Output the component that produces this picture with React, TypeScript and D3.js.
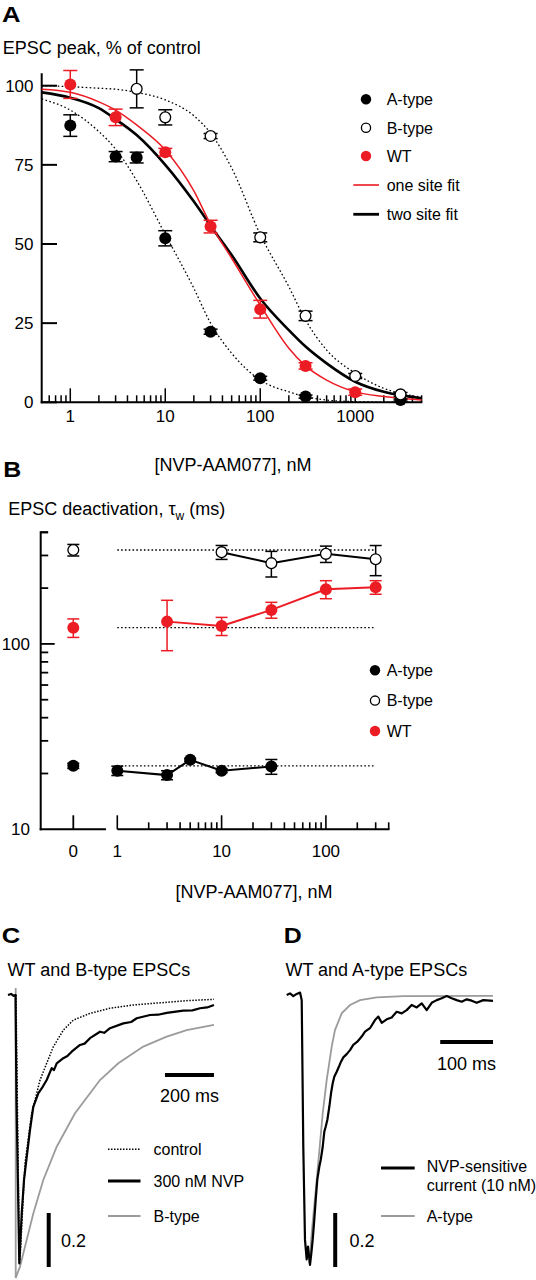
import React from 'react';
import * as d3 from 'd3';

const FONT = '"Liberation Sans", Arial, Helvetica, sans-serif';
const RED = '#ec1c24';
const GREY = '#9b9b9b';

// ---------- Panel A: EPSC peak (% of control) vs [NVP-AAM077] ----------
const A_CONC_ATYPE = [1, 3, 5, 10, 30, 100, 300, 3000];
const A_PEAK_ATYPE = [87.4, 77.6, 77.3, 51.8, 22.3, 7.6, 1.8, 0.7];
const A_ERR_ATYPE = [3.4, 1.6, 1.7, 2.4, 0.8, 0.6, 0.5, 0.3];
const A_CONC_BTYPE = [5, 10, 30, 100, 300, 1000, 3000];
const A_PEAK_BTYPE = [99, 90, 84.1, 52.1, 27.3, 8.3, 2.5];
const A_ERR_BTYPE = [6, 2.4, 0.8, 1.4, 1.5, 0.8, 0.6];
const A_CONC_WT = [1, 3, 10, 30, 100, 300, 1000];
const A_PEAK_WT = [100.4, 90, 79, 55.5, 29.4, 11.5, 3.2];
const A_ERR_WT = [4.4, 2.6, 1.2, 2, 2.8, 1, 1];

const FIT_CONC = [0.5, 1, 2, 3, 5, 10, 20, 30, 50, 100, 200, 300, 500, 1000, 2000, 5000];
const FIT_ATYPE = [95.8, 92.3, 85.5, 80, 70, 53, 36, 25, 15.5, 7.0, 3.3, 1.8, 0.7, 0.2, 0.05, 0];
const FIT_BTYPE = [100, 99.7, 99.2, 98.9, 97.9, 95.5, 90.5, 85, 74, 53, 36.5, 26, 16.5, 9.2, 4.4, 1.6];
const FIT_ONE_SITE = [98.9, 97.9, 94.9, 92.3, 87.6, 79.7, 66.8, 56.2, 45.5, 30.7, 17.1, 11.5, 7.0, 3.3, 1.8, 0.7];
const FIT_TWO_SITE = [97.9, 96.2, 92.9, 89.4, 84.4, 75.0, 63.4, 55.8, 46.5, 32.8, 22.8, 17.6, 12.3, 6.5, 3.3, 1.3];

const A_YTICKS = [0, 25, 50, 75, 100];
const A_XLABELS = [1, 10, 100, 1000];

// ---------- Panel B: deactivation tau_w ----------
const B_CONC_ATYPE = [1, 3, 5, 10, 30];
const B_TAU_ATYPE = [20.7, 19.6, 23.7, 20.7, 21.8];
const B_ERR_ATYPE = [1.2, 1.1, 0.4, 0.5, 2.0];
const B_CONC_BTYPE = [10, 30, 100, 300];
const B_TAU_BTYPE = [312.6, 272.6, 306, 286.4];
const B_ERR_BTYPE = [27, 43, 31, 53];
const B_CONC_WT = [3, 10, 30, 100, 300];
const B_TAU_WT = [131.9, 125, 152.6, 197.3, 202.3];
const B_ERR_WT = [40, 14, 15, 22, 17];
const B_ZERO_TAU = { A: 22.0, B: 321, WT: 122.4 };
const B_ZERO_ERR = { A: 0.7, B: 23, WT: 14 };
const B_REF_RANGE = [1, 300];
const B_XLABELS = [1, 10, 100];
const B_YLABELS = [10, 100];

// ---------- Panel C: WT and B-type EPSCs (t in ms, normalized amplitude) ----------
const C_CONTROL: [number, number][] = [
  [0, 0], [14, -0.99], [16.3, -0.981], [36.7, -0.623], [64.1, -0.438], [98, -0.315], [125.3, -0.253],
  [152.2, -0.192], [193.1, -0.13], [233.9, -0.093], [302, -0.068], [383.7, -0.049], [478.8, -0.037],
  [587.8, -0.029], [696.7, -0.021], [808, -0.016],
];
const C_NVP300: [number, number][] = [
  [-32.7, 0], [-20, 0.004], [-10, -0.003], [-2, 0], [2, -0.389], [13.5, -0.994], [23.3, -0.809],
  [32.7, -0.685], [40.8, -0.623], [57.1, -0.5], [70.6, -0.414], [91, -0.364], [109, -0.34], [125.3, -0.315],
  [145.7, -0.271], [155, -0.278], [166.1, -0.253], [193.1, -0.234], [210, -0.226], [227.3, -0.21],
  [261.2, -0.185], [280, -0.18], [302, -0.16], [342.9, -0.136], [360, -0.14], [383.7, -0.123],
  [438, -0.105], [470, -0.1], [492.7, -0.086], [546.9, -0.074], [580, -0.073], [615.1, -0.066],
  [682.9, -0.058], [720, -0.057], [751, -0.049], [780, -0.046], [808, -0.037],
];
const C_BTYPE: [number, number][] = [
  [-1.2, 0.026], [-1.2, -1.048], [16.3, -1.006], [70.6, -0.809], [111.4, -0.685], [166.1, -0.562],
  [240.8, -0.438], [342.9, -0.315], [417.6, -0.253], [519.6, -0.191], [615.1, -0.154], [696.7, -0.13],
  [808, -0.111],
];

// ---------- Panel D: WT and A-type EPSCs ----------
const D_NVP_SENS: [number, number][] = [
  [-28, 0], [-21.8, 0.006], [-15.5, -0.004], [-9.1, 0.004], [-2.8, 0.009], [0.4, -0.019], [3.4, -0.562],
  [6.6, -0.907], [9.8, -0.979], [12.3, -0.932], [16.1, -1.0], [18.6, -0.957], [21.2, -0.907], [24.2, -0.833],
  [26.9, -0.759], [29.9, -0.685], [33.7, -0.636], [36.4, -0.611], [40.2, -0.562], [43.2, -0.506],
  [45.8, -0.488], [48.9, -0.463], [52.7, -0.414], [55.9, -0.364], [59.1, -0.327], [62.1, -0.303],
  [66.7, -0.284], [71, -0.265], [74.8, -0.247], [79.2, -0.231], [85.6, -0.219], [91.9, -0.204],
  [98.1, -0.185], [105.7, -0.173], [114, -0.154], [120.3, -0.136], [129.7, -0.123], [139.2, -0.093],
  [145.5, -0.08], [151.9, -0.103], [161.4, -0.09], [170.8, -0.083], [180.3, -0.062], [189.8, -0.068],
  [199.2, -0.056], [208.7, -0.037], [218.2, -0.046], [227.7, -0.031], [237.1, -0.056], [246.6, -0.029],
  [256.1, -0.019], [265.5, -0.012], [275, -0.004], [284.5, -0.012], [293.9, -0.019], [303.4, -0.025],
  [312.9, -0.016], [322.3, -0.021], [331.8, -0.029], [344.3, -0.019], [357, -0.021], [362.7, -0.022],
];
const D_ATYPE: [number, number][] = [
  [14.8, -0.994], [19.9, -0.87], [28.8, -0.685], [40.2, -0.438], [47.7, -0.315], [57.2, -0.191],
  [63.4, -0.13], [76.1, -0.068], [91.9, -0.037], [110.8, -0.019], [142.4, -0.009], [192.8, -0.004],
  [362.7, -0.003],
];

// ---------- scales ----------
const xA = d3.scaleLog().domain([0.5, 5000]).range([41.7, 421.6]);
const yA = d3.scaleLinear().domain([0, 100]).range([402.3, 85.7]);
const yB = d3.scaleLog().domain([10, 400]).range([829.3, 532.3]);
const xB = d3.scaleLog().domain([1, 400]).range([117.3, 388.7]);
const xB0 = 73.3;
const xC = d3.scaleLinear().domain([0, 200]).range([16, 65]);
const xD = d3.scaleLinear().domain([0, 100]).range([301.5, 354.3]);
const yTr = d3.scaleLinear().domain([0, -1]).range([995, 1265]);

function logTicks(lo: number, hi: number) {
  const out: { v: number; major: boolean }[] = [];
  for (let e = -1; e <= 4; e++) {
    for (let m = 1; m <= 9; m++) {
      const v = m * Math.pow(10, e);
      if (v > lo * 1.0001 && v <= hi * 1.0001) out.push({ v, major: m === 1 });
    }
  }
  return out;
}

const lineA = d3.line<[number, number]>().x(d => xA(d[0])).y(d => yA(d[1])).curve(d3.curveMonotoneX);
const lineC = d3.line<[number, number]>().x(d => xC(d[0])).y(d => yTr(d[1]));
const lineD = d3.line<[number, number]>().x(d => xD(d[0])).y(d => yTr(d[1]));

function ErrBar({ x, y1, y2, color, w = 7 }: { x: number; y1: number; y2: number; color: string; w?: number }) {
  return (
    <g stroke={color} strokeWidth={1.5} fill="none">
      <line x1={x} x2={x} y1={y1} y2={y2} />
      <line x1={x - w} x2={x + w} y1={y1} y2={y1} />
      <line x1={x - w} x2={x + w} y1={y2} y2={y2} />
    </g>
  );
}

function Marker({ x, y, kind, r = 6 }: { x: number; y: number; kind: 'A' | 'B' | 'WT'; r?: number }) {
  if (kind === 'B') return <circle cx={x} cy={y} r={r - 0.6} fill="#fff" stroke="#000" strokeWidth={1.3} />;
  return <circle cx={x} cy={y} r={r} fill={kind === 'WT' ? RED : '#000'} />;
}

function PanelA() {
  const zip = (xs: number[], ys: number[]) => xs.map((x, i) => [x, ys[i]] as [number, number]);
  const series = [
    { kind: 'A' as const, c: A_CONC_ATYPE, v: A_PEAK_ATYPE, e: A_ERR_ATYPE, col: '#000' },
    { kind: 'B' as const, c: A_CONC_BTYPE, v: A_PEAK_BTYPE, e: A_ERR_BTYPE, col: '#000' },
    { kind: 'WT' as const, c: A_CONC_WT, v: A_PEAK_WT, e: A_ERR_WT, col: RED },
  ];
  const xt = logTicks(0.5, 5000);
  const legend = [
    { t: 'A-type', k: 'A' }, { t: 'B-type', k: 'B' }, { t: 'WT', k: 'WT' },
    { t: 'one site fit', k: 'one' }, { t: 'two site fit', k: 'two' },
  ];
  const rows = [99.3, 127.7, 156, 185, 214.3];
  return (
    <g>
      <text x={2} y={21.5} fontSize={22} fontWeight="bold" textLength={18.5} lengthAdjust="spacingAndGlyphs">A</text>
      <text x={2.7} y={54} fontSize={18}>EPSC peak, % of control</text>
      {/* axes */}
      <g stroke="#000" strokeWidth={2} fill="none">
        <line x1={41.7} x2={41.7} y1={73.3} y2={403.3} />
        <line x1={40.7} x2={422.3} y1={402.3} y2={402.3} />
      </g>
      {A_YTICKS.map(t => (
        <g key={t}>
          <line x1={41.7} x2={57} y1={yA(t)} y2={yA(t)} stroke="#000" strokeWidth={2} />
          <text x={33.5} y={yA(t) + 6} fontSize={17} textAnchor="end">{t}</text>
        </g>
      ))}
      {xt.map(t => (
        <line key={t.v} x1={xA(t.v)} x2={xA(t.v)} y1={402.3} y2={402.3 - (t.major ? 14 : 7)} stroke="#000" strokeWidth={1.5} />
      ))}
      {A_XLABELS.map(t => (
        <text key={t} x={xA(t)} y={421.5} fontSize={17} textAnchor="middle">{t}</text>
      ))}
      <text x={233} y={471} fontSize={18} textAnchor="middle">[NVP-AAM077], nM</text>
      {/* fits */}
      <path d={lineA(zip(FIT_CONC, FIT_ATYPE)) || ''} fill="none" stroke="#000" strokeWidth={1.3} strokeDasharray="1.6 2.4" />
      <path d={lineA(zip(FIT_CONC, FIT_BTYPE)) || ''} fill="none" stroke="#000" strokeWidth={1.3} strokeDasharray="1.6 2.4" />
      <path d={lineA(zip(FIT_CONC, FIT_TWO_SITE)) || ''} fill="none" stroke="#000" strokeWidth={2.6} />
      <path d={lineA(zip(FIT_CONC, FIT_ONE_SITE)) || ''} fill="none" stroke={RED} strokeWidth={1.5} />
      {series.map(s => s.c.map((c, i) => (
        <ErrBar key={s.kind + 'e' + i} x={xA(c)} y1={yA(s.v[i] - s.e[i])} y2={yA(s.v[i] + s.e[i])} color={s.col} />
      )))}
      {series.map(s => s.c.map((c, i) => (
        <Marker key={s.kind + 'm' + i} x={xA(c)} y={yA(s.v[i])} kind={s.kind} />
      )))}
      {legend.map((l, i) => (
        <g key={l.t}>
          {l.k === 'one' ? <line x1={353.3} x2={379} y1={rows[i]} y2={rows[i]} stroke={RED} strokeWidth={1.6} /> :
            l.k === 'two' ? <line x1={353.3} x2={379} y1={rows[i]} y2={rows[i]} stroke="#000" strokeWidth={2.8} /> :
              <Marker x={366} y={rows[i]} kind={l.k as any} r={5.2} />}
          <text x={386.7} y={rows[i] + 5.8} fontSize={16}>{l.t}</text>
        </g>
      ))}
    </g>
  );
}

function PanelB() {
  const yt = logTicks(10, 400);
  const xt = logTicks(0.99, 400);
  const series = [
    { kind: 'A' as const, c: B_CONC_ATYPE, v: B_TAU_ATYPE, e: B_ERR_ATYPE, col: '#000', z: B_ZERO_TAU.A, ze: B_ZERO_ERR.A },
    { kind: 'B' as const, c: B_CONC_BTYPE, v: B_TAU_BTYPE, e: B_ERR_BTYPE, col: '#000', z: B_ZERO_TAU.B, ze: B_ZERO_ERR.B },
    { kind: 'WT' as const, c: B_CONC_WT, v: B_TAU_WT, e: B_ERR_WT, col: RED, z: B_ZERO_TAU.WT, ze: B_ZERO_ERR.WT },
  ];
  const lineB = d3.line<[number, number]>().x(d => xB(d[0])).y(d => yB(d[1]));
  const rows = [670.3, 700.6, 731];
  return (
    <g>
      <text x={3.3} y={477} fontSize={22} fontWeight="bold" textLength={18} lengthAdjust="spacingAndGlyphs">B</text>
      <text x={8.3} y={515} fontSize={18}>
        EPSC deactivation, <tspan>τ</tspan><tspan fontSize={12} dy={5}>w</tspan><tspan dy={-5}> (ms)</tspan>
      </text>
      <g stroke="#000" strokeWidth={2} fill="none">
        <line x1={40.7} x2={40.7} y1={531.3} y2={830.3} />
        <line x1={39.7} x2={106} y1={829.3} y2={829.3} />
        <line x1={117.3} x2={389.5} y1={829.3} y2={829.3} />
        <line x1={40.7} x2={48} y1={532.3} y2={532.3} />
      </g>
      {yt.map(t => (
        <line key={t.v} x1={40.7} x2={40.7 + (t.major ? 14 : 7.5)} y1={yB(t.v)} y2={yB(t.v)} stroke="#000" strokeWidth={1.8} />
      ))}
      {B_YLABELS.map(t => (
        <text key={t} x={30} y={yB(t) + 6} fontSize={17} textAnchor="end">{t}</text>
      ))}
      <line x1={xB0} x2={xB0} y1={829.3} y2={815.3} stroke="#000" strokeWidth={1.8} />
      {xt.map(t => (
        <line key={t.v} x1={xB(t.v)} x2={xB(t.v)} y1={829.3} y2={829.3 - (t.major ? 14 : 7)} stroke="#000" strokeWidth={1.6} />
      ))}
      <text x={xB0} y={856.5} fontSize={17} textAnchor="middle">0</text>
      {B_XLABELS.map(t => (
        <text key={t} x={xB(t)} y={856.5} fontSize={17} textAnchor="middle">{t}</text>
      ))}
      <text x={254} y={898} fontSize={18} textAnchor="middle">[NVP-AAM077], nM</text>
      {/* reference lines */}
      {series.map(s => (
        <line key={s.kind + 'ref'} x1={xB(B_REF_RANGE[0])} x2={xB(B_REF_RANGE[1])} y1={yB(s.z)} y2={yB(s.z)}
          stroke="#000" strokeWidth={1.3} strokeDasharray="1.6 2.2" />
      ))}
      {series.map(s => (
        <path key={s.kind + 'l'} d={lineB(s.c.map((c, i) => [c, s.v[i]] as [number, number])) || ''}
          fill="none" stroke={s.col} strokeWidth={2} />
      ))}
      {series.map(s => (
        <g key={s.kind + 'e'}>
          <ErrBar x={xB0} y1={yB(s.z - s.ze)} y2={yB(s.z + s.ze)} color={s.col} w={6} />
          {s.c.map((c, i) => (
            <ErrBar key={i} x={xB(c)} y1={yB(s.v[i] - s.e[i])} y2={yB(s.v[i] + s.e[i])} color={s.col} w={6} />
          ))}
        </g>
      ))}
      {series.map(s => (
        <g key={s.kind + 'm'}>
          <Marker x={xB0} y={yB(s.z)} kind={s.kind} />
          {s.c.map((c, i) => <Marker key={i} x={xB(c)} y={yB(s.v[i])} kind={s.kind} />)}
        </g>
      ))}
      {[{ t: 'A-type', k: 'A' }, { t: 'B-type', k: 'B' }, { t: 'WT', k: 'WT' }].map((l, i) => (
        <g key={l.t}>
          <Marker x={375} y={rows[i]} kind={l.k as any} r={5.2} />
          <text x={386.7} y={rows[i] + 5.8} fontSize={16}>{l.t}</text>
        </g>
      ))}
    </g>
  );
}

function PanelC() {
  const barEnd = C_CONTROL[C_CONTROL.length - 1][0];
  const rows = [1149.3, 1181, 1216];
  return (
    <g>
      <text x={1.7} y={943} fontSize={22} fontWeight="bold" textLength={18.5} lengthAdjust="spacingAndGlyphs">C</text>
      <text x={7.5} y={975.7} fontSize={18}>WT and B-type EPSCs</text>
      <path d={lineC(C_BTYPE) || ''} fill="none" stroke={GREY} strokeWidth={1.8} />
      <path d={lineC(C_NVP300) || ''} fill="none" stroke="#000" strokeWidth={2.2} strokeLinejoin="round" />
      <path d={lineC(C_CONTROL) || ''} fill="none" stroke="#000" strokeWidth={1.5} strokeDasharray="1.5 1.5" />
      <line x1={xC(barEnd - 200)} x2={xC(barEnd)} y1={1075} y2={1075} stroke="#000" strokeWidth={4} />
      <text x={(xC(barEnd - 200) + xC(barEnd)) / 2} y={1102} fontSize={18} textAnchor="middle">200 ms</text>
      <line x1={48.7} x2={48.7} y1={yTr(-1) + 2} y2={yTr(-0.8) + 2} stroke="#000" strokeWidth={4} />
      <text x={61} y={1246.5} fontSize={18}>0.2</text>
      <line x1={108} x2={140.5} y1={rows[0]} y2={rows[0]} stroke="#000" strokeWidth={1.6} strokeDasharray="1.5 1.5" />
      <line x1={108} x2={140.5} y1={rows[1]} y2={rows[1]} stroke="#000" strokeWidth={3} />
      <line x1={108} x2={140.5} y1={rows[2]} y2={rows[2]} stroke={GREY} strokeWidth={2} />
      <text x={153.5} y={rows[0] + 5.6} fontSize={16}>control</text>
      <text x={153.5} y={rows[1] + 5.6} fontSize={16}>300 nM NVP</text>
      <text x={153.5} y={rows[2] + 5.6} fontSize={16}>B-type</text>
    </g>
  );
}

function PanelD() {
  const end = D_NVP_SENS[D_NVP_SENS.length - 1][0];
  return (
    <g>
      <text x={283.7} y={943} fontSize={22} fontWeight="bold" textLength={18} lengthAdjust="spacingAndGlyphs">D</text>
      <text x={285.4} y={975.7} fontSize={18}>WT and A-type EPSCs</text>
      <path d={lineD(D_ATYPE) || ''} fill="none" stroke={GREY} strokeWidth={1.8} />
      <path d={lineD(D_NVP_SENS) || ''} fill="none" stroke="#000" strokeWidth={2.2} strokeLinejoin="round" />
      <line x1={xD(end - 100)} x2={xD(end)} y1={1042} y2={1042} stroke="#000" strokeWidth={4} />
      <text x={(xD(end - 100) + xD(end)) / 2} y={1070} fontSize={18} textAnchor="middle">100 ms</text>
      <line x1={335.2} x2={335.2} y1={yTr(-1) + 2} y2={yTr(-0.8) + 2} stroke="#000" strokeWidth={4} />
      <text x={349.5} y={1246.5} fontSize={18}>0.2</text>
      <line x1={381} x2={414.7} y1={1168} y2={1168} stroke="#000" strokeWidth={3} />
      <text x={426.7} y={1172} fontSize={16}>NVP-sensitive</text>
      <text x={426.7} y={1190.5} fontSize={16}>current (10 nM)</text>
      <line x1={381} x2={414.7} y1={1216} y2={1216} stroke={GREY} strokeWidth={2} />
      <text x={426.7} y={1221.6} fontSize={16}>A-type</text>
    </g>
  );
}

export default function App() {
  return (
    <svg width={536} height={1280} viewBox="0 0 536 1280"
      style={{ position: 'absolute', left: 0, top: 0, background: '#fff' }}
      fontFamily={FONT} fill="#000">
      <rect x={0} y={0} width={536} height={1280} fill="#fff" />
      <PanelA />
      <PanelB />
      <PanelC />
      <PanelD />
    </svg>
  );
}
